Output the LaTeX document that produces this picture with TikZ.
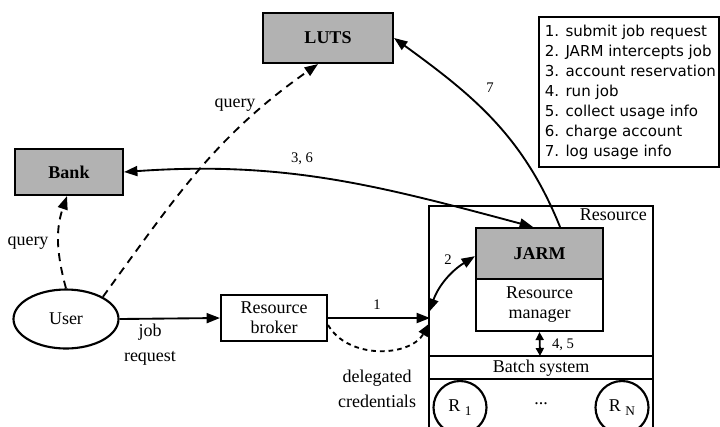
\documentclass[tikz,border=0pt]{standalone}
\usepackage{fontspec}
\setmainfont{Liberation Serif}
\newfontfamily\legendfont{DejaVu Sans}
\usetikzlibrary{arrows.meta,shapes.geometric}

\tikzset{
  box/.style={draw, line width=1.6pt, inner sep=0pt, align=center},
  greybox/.style={box, fill=gray!60, font=\fontsize{13.5}{16}\selectfont\bfseries},
  plainbox/.style={box, fill=white, font=\fontsize{13.5}{16}\selectfont},
  link/.style={line width=1.4pt, -{Triangle[length=10pt,width=7.5pt]}},
  duplex/.style={line width=1.4pt, {Triangle[length=10pt,width=7.5pt]}-{Triangle[length=10pt,width=7.5pt]}},
  querylink/.style={link, dash pattern=on 6pt off 4.5pt},
  credlink/.style={link, dash pattern=on 3.5pt off 3pt},
  lbl/.style={font=\fontsize{13.5}{18.5}\selectfont, align=center, inner sep=0pt},
  num/.style={font=\fontsize{11}{13}\selectfont, inner sep=0pt},
}

\begin{document}
\begin{tikzpicture}[x=0.75pt,y=0.75pt]
\useasboundingbox (0,0) rectangle (720,-426);
\clip (0,0) rectangle (720,-426);

% outer resource frame with batch system strip and compute nodes
\draw[line width=1.6pt] (429,-440) -- (429,-206) -- (653,-206) -- (653,-440);
\draw[line width=1.6pt] (429,-356) -- (653,-356);
\draw[line width=1.6pt] (429,-379) -- (653,-379);
\node[lbl, anchor=north east] (restitle) at (647,-208) {Resource};
\node[lbl] (batch) at (541,-368) {Batch system};
\node[draw, circle, line width=1.6pt, minimum size=39.75pt, inner sep=0pt,
      font=\fontsize{13.5}{16}\selectfont] (r1) at (460,-407.5)
      {R~\raisebox{-0.5ex}{\fontsize{10}{12}\selectfont 1}};
\node[draw, circle, line width=1.6pt, minimum size=39.75pt, inner sep=0pt,
      font=\fontsize{13.5}{16}\selectfont] (rn) at (622,-407.5)
      {R~\raisebox{-0.5ex}{\fontsize{10}{12}\selectfont N}};
\node[lbl] (dots) at (541,-404) {...};

% services and actors
\node[greybox, minimum width=97.5pt, minimum height=37.5pt] (luts) at (328,-38) {LUTS};
\node[greybox, minimum width=81pt, minimum height=34.5pt] (bank) at (69,-172) {Bank};
\node[draw, ellipse, line width=1.6pt, minimum width=78.75pt, minimum height=44.25pt,
      inner sep=0pt, font=\fontsize{13.5}{16}\selectfont] (user) at (66,-319) {User};
\node[plainbox, minimum width=79.5pt, minimum height=34.5pt] (broker) at (274,-318)
      {Resource\\[-1pt]broker};
\node[greybox, minimum width=95.25pt, minimum height=38.25pt] (jarm) at (539.5,-253.5) {JARM};
\node[plainbox, minimum width=95.25pt, minimum height=39pt] (mgr) at (539.5,-305)
      {Resource\\[-1pt]manager};

% legend
\draw[line width=1.6pt] (539,-17) rectangle (719,-167);
\node[anchor=west, inner sep=0pt, align=left,
      font=\legendfont\fontsize{11.3}{15}\selectfont] (legend) at (544.5,-92)
  {1. submit job request\\2. JARM intercepts job\\3. account reservation\\4. run job\\
   5. collect usage info\\6. charge account\\7. log usage info};

% entry points on the resource frame
\coordinate (in1) at (430,-318);
\coordinate (in2) at (429,-312);
\coordinate (in3) at (430,-323);
\coordinate (batchtop) at (540,-356);

% connectors
\draw[link] (user.east) -- (broker.west);
\node[lbl] at (150,-344.5) {job\\request};

\draw[querylink] (user.north) to[out=105,in=-109] ([xshift=-1.5pt]bank.south);
\node[lbl] at (28,-243) {query};

\draw[querylink] (user.31) to[out=54,in=215] ([xshift=-7.5pt]luts.south);
\node[lbl] at (235,-105) {query};

\draw[duplex] (bank.east) to[out=4,in=165] ([xshift=-4.9pt]jarm.north);
\node[num] at (302,-159) {3, 6};

\draw[link] ([xshift=15.4pt]jarm.north) to[out=112,in=-36] (luts.east);
\node[num] at (490,-88) {7};

\draw[link] (broker.east) -- (in1);
\node[num] at (377,-305) {1};

\draw[duplex] (in2) to[out=70,in=-148] ([yshift=-2pt]jarm.west);
\node[num] at (448,-260) {2};

\draw[credlink] ([yshift=-5.25pt]broker.east) to[out=-60,in=-121] (in3);
\node[lbl] at (377,-389) {delegated\\credentials};

\draw[line width=1.4pt, {Triangle[length=6pt,width=6pt]}-{Triangle[length=6pt,width=6pt]}]
  (mgr.south) -- (batchtop);
\node[num] at (563,-345) {4, 5};
\end{tikzpicture}
\end{document}
